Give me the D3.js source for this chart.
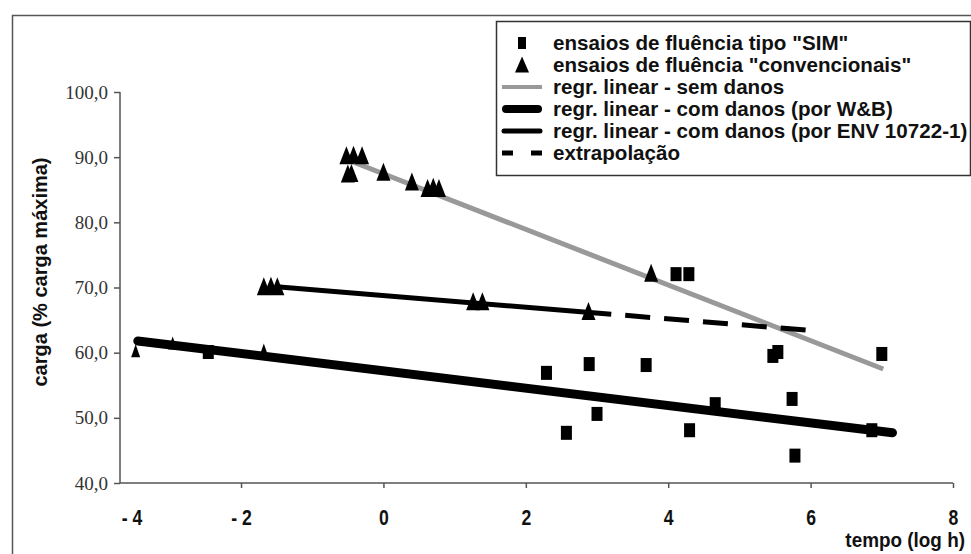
<!DOCTYPE html>
<html>
<head>
<meta charset="utf-8">
<script src="https://cdn.jsdelivr.net/npm/d3@7"></script>
<style>
  body { margin: 0; background: #fff; }
  svg { display: block; }
  .sans { font-family: "Liberation Sans", Arial, sans-serif; font-weight: bold; }
  .serif { font-family: "Liberation Serif", "Times New Roman", serif; }
</style>
</head>
<body>
<div id="fig"></div>
<script>
// ensaios tipo "SIM" (squares)
var simX = [-2.46, 2.29, 2.57, 2.89, 3.0, 3.69, 4.11, 4.29, 4.3, 4.66, 5.47, 5.54, 5.74, 5.78, 6.86, 7.0];
var simY = [60.1, 56.9, 47.7, 58.25, 50.6, 58.1, 72.05, 72.05, 48.1, 52.1, 59.5, 60.1, 52.9, 44.2, 48.1, 59.8];

// ensaios convencionais (triangles)
var convX = [-0.52, -0.42, -0.3, -0.5, -0.45, 0.0, 0.4, 0.62, 0.7, 0.78, 3.76, -1.68, -1.58, -1.49, 1.26, 1.39, 2.88];
var convY = [90.0, 90.1, 90.0, 87.2, 87.3, 87.5, 86.0, 85.0, 85.2, 85.0, 72.0, 69.9, 70.0, 69.9, 67.6, 67.6, 66.1];
// convencionais, lower level (smaller marks)
var convLowX = [-3.48, -2.96, -1.68];
var convLowY = [60.1, 61.3, 60.2];

// regression lines (end points)
var semDanosX = [-0.55, 7.02], semDanosY = [89.8, 57.5];
var wbX = [-3.45, 7.15], wbY = [61.8, 47.7];
var envX = [-1.5, 3.2], envY = [70.1, 65.9];
var extrapX = [3.2, 5.95], extrapY = [65.9, 63.45];

var xTicks = [-4, -2, 0, 2, 4, 6, 8];
var yTicks = [40, 50, 60, 70, 80, 90, 100];

var legendLabels = [
  'ensaios de fluência tipo "SIM"',
  'ensaios de fluência "convencionais"',
  'regr. linear - sem danos',
  'regr. linear - com danos (por W&B)',
  'regr. linear - com danos (por ENV 10722-1)',
  'extrapolação'
];

var W = 971, H = 554;
var axisColor = '#555';

var svg = d3.select('#fig').append('svg')
    .attr('width', W)
    .attr('height', H);

// outer frame
svg.append('rect')
    .attr('x', 12.5).attr('y', 15.5)
    .attr('width', W).attr('height', H)
    .attr('fill', 'none').attr('stroke', axisColor).attr('stroke-width', 1.5);

var x = d3.scaleLinear().domain([-3.7, 8]).range([120, 953]);
var y = d3.scaleLinear().domain([40, 100]).range([483, 92]);

// y axis
var yAxis = svg.append('g')
    .attr('transform', 'translate(' + x(-3.7) + ',0)')
    .call(d3.axisLeft(y).tickValues(yTicks).tickSize(6).tickPadding(6)
      .tickFormat(function(d) { return d3.format('.1f')(d).replace('.', ','); }));
yAxis.selectAll('path, line').attr('stroke', axisColor).attr('stroke-width', 1.5);
yAxis.select('.domain').attr('d', 'M0,' + y(100) + 'V' + y(40));
yAxis.selectAll('text').attr('class', 'serif').attr('font-size', 19).attr('fill', '#333')
    .attr('font-family', null);

// x axis (labels drawn condensed)
var xAxis = svg.append('g')
    .attr('transform', 'translate(0,' + y(40) + ')')
    .call(d3.axisBottom(x).tickValues(xTicks.slice(1)).tickSize(5).tickPadding(21)
      .tickFormat(function(d) { return d < 0 ? '- ' + Math.abs(d) : d; }));
xAxis.selectAll('path, line').attr('stroke', axisColor).attr('stroke-width', 1.5);
xAxis.select('.domain').attr('d', 'M' + x(-3.7) + ',0H' + x(8));
xAxis.selectAll('text').attr('class', 'sans').attr('font-size', 22).attr('fill', '#111')
    .attr('font-family', null).attr('transform', 'scale(0.8,1)');
// first label sits at the axis origin
xAxis.append('g')
    .attr('transform', 'translate(' + (x(-3.7) + 12) + ',0) scale(0.8,1)')
  .append('text')
    .attr('class', 'sans')
    .attr('y', 26).attr('dy', '0.71em')
    .attr('font-size', 22).attr('fill', '#111')
    .attr('text-anchor', 'middle')
    .text('- ' + Math.abs(xTicks[0]));

// axis titles
svg.append('text')
    .attr('class', 'sans')
    .attr('transform', 'translate(47,272) rotate(-90)')
    .attr('text-anchor', 'middle')
    .attr('font-size', 20)
    .attr('fill', '#111')
    .text('carga (% carga máxima)');

svg.append('g')
    .attr('transform', 'translate(965,547) scale(0.9,1)')
  .append('text')
    .attr('class', 'sans')
    .attr('text-anchor', 'end')
    .attr('font-size', 21)
    .attr('fill', '#111')
    .text('tempo (log h)');

// lines
function seg(xs, ys) {
  return d3.line().x(function(d) { return x(d[0]); }).y(function(d) { return y(d[1]); })(d3.zip(xs, ys));
}

svg.append('path').attr('d', seg(semDanosX, semDanosY))
    .attr('stroke', '#999').attr('stroke-width', 5).attr('fill', 'none');
svg.append('path').attr('d', seg(wbX, wbY))
    .attr('stroke', '#000').attr('stroke-width', 9).attr('stroke-linecap', 'round').attr('fill', 'none');
svg.append('path').attr('d', seg(envX, envY))
    .attr('stroke', '#000').attr('stroke-width', 5).attr('fill', 'none');
svg.append('path').attr('d', seg(extrapX, extrapY))
    .attr('stroke', '#000').attr('stroke-width', 5).attr('fill', 'none')
    .attr('stroke-dasharray', '25,14').attr('stroke-dashoffset', 25);

// markers
var tri = function(w, h) {
  return 'M0,' + (-h * 0.6) + 'L' + (w / 2) + ',' + (h * 0.4) + 'L' + (-w / 2) + ',' + (h * 0.4) + 'Z';
};

svg.append('g').selectAll('path')
  .data(d3.zip(convX, convY))
  .join('path')
    .attr('d', tri(14, 18))
    .attr('transform', function(d) { return 'translate(' + x(d[0]) + ',' + y(d[1]) + ')'; })
    .attr('fill', '#000');

svg.append('g').selectAll('path')
  .data(d3.zip(convLowX, convLowY))
  .join('path')
    .attr('d', tri(9, 13))
    .attr('transform', function(d) { return 'translate(' + x(d[0]) + ',' + y(d[1]) + ')'; })
    .attr('fill', '#000');

svg.append('g').selectAll('rect')
  .data(d3.zip(simX, simY))
  .join('rect')
    .attr('x', function(d) { return x(d[0]) - 5.5; })
    .attr('y', function(d) { return y(d[1]) - 7; })
    .attr('width', 11).attr('height', 14)
    .attr('fill', '#000');

// legend
var lg = svg.append('g');
lg.append('rect')
    .attr('x', 496.5).attr('y', 21.5).attr('width', 474).attr('height', 154)
    .attr('fill', '#fff').attr('stroke', '#333').attr('stroke-width', 1.5);

var rowY = function(i) { return 43 + i * 22; };
lg.selectAll('text')
  .data(legendLabels)
  .join('text')
    .attr('class', 'sans')
    .attr('x', 553).attr('y', function(d, i) { return rowY(i); })
    .attr('dy', '0.35em')
    .attr('font-size', 20.6)
    .attr('fill', '#111')
    .text(function(d) { return d; });

lg.append('rect').attr('x', 518).attr('y', rowY(0) - 6).attr('width', 8).attr('height', 12).attr('fill', '#000');
lg.append('path').attr('d', tri(14, 16)).attr('transform', 'translate(522,' + (rowY(1) + 1) + ')').attr('fill', '#000');
lg.append('line').attr('x1', 502).attr('x2', 542).attr('y1', rowY(2)).attr('y2', rowY(2))
    .attr('stroke', '#999').attr('stroke-width', 4);
lg.append('line').attr('x1', 506).attr('x2', 538).attr('y1', rowY(3)).attr('y2', rowY(3))
    .attr('stroke', '#000').attr('stroke-width', 8).attr('stroke-linecap', 'round');
lg.append('line').attr('x1', 504).attr('x2', 540).attr('y1', rowY(4)).attr('y2', rowY(4))
    .attr('stroke', '#000').attr('stroke-width', 5).attr('stroke-linecap', 'round');
lg.append('line').attr('x1', 502).attr('x2', 542).attr('y1', rowY(5)).attr('y2', rowY(5))
    .attr('stroke', '#000').attr('stroke-width', 5).attr('stroke-dasharray', '11,18');
</script>
</body>
</html>
